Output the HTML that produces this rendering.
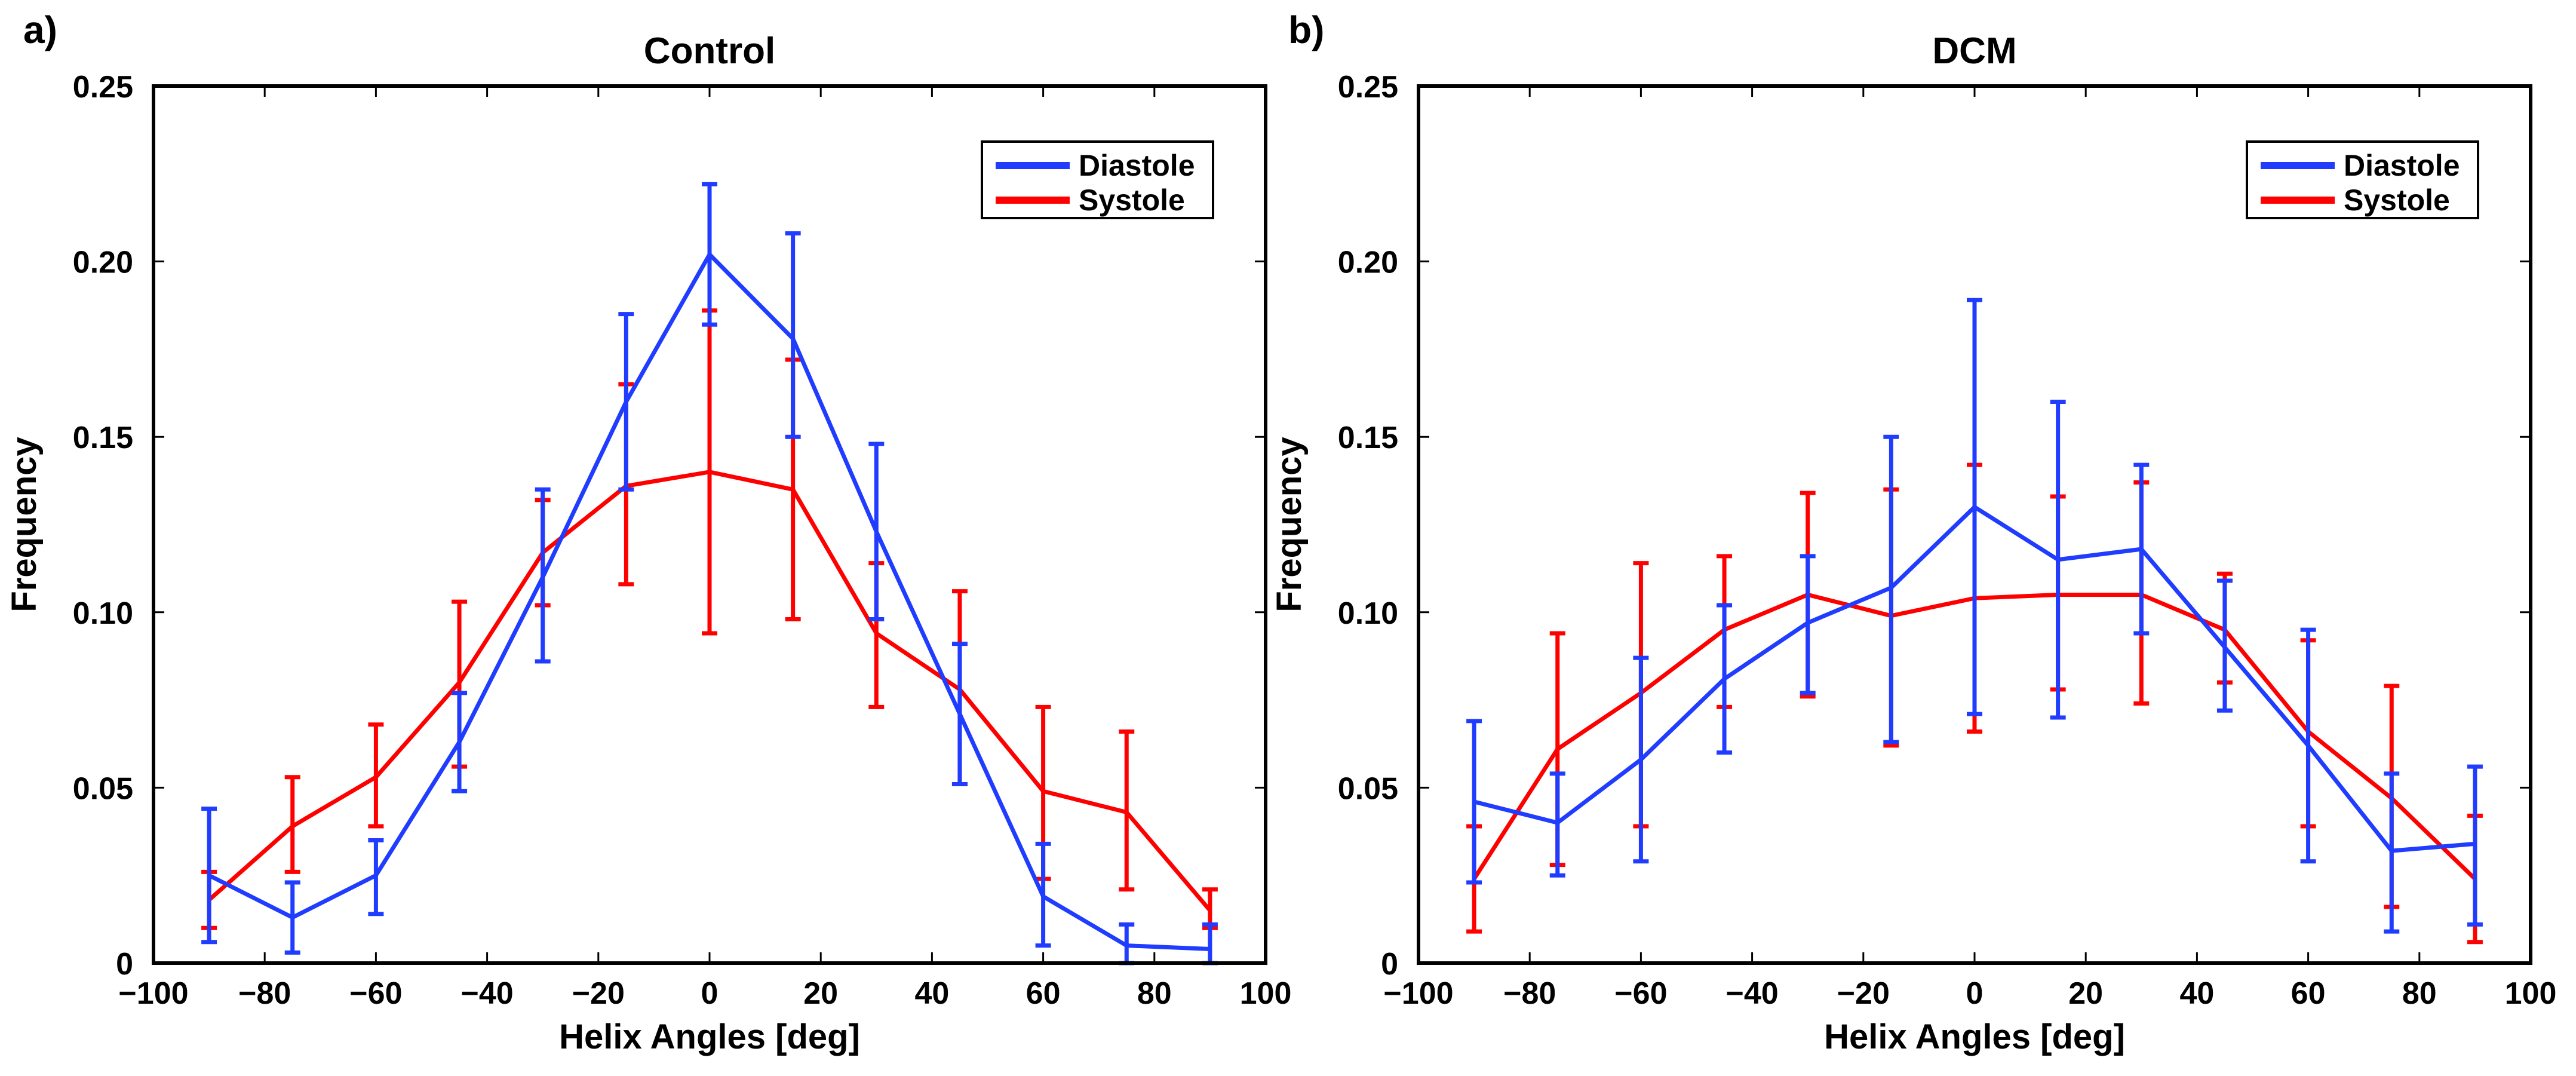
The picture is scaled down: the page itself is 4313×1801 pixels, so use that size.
<!DOCTYPE html>
<html><head><meta charset="utf-8"><style>
html,body{margin:0;padding:0;background:#fff;}
svg text{font-family:"Liberation Sans",sans-serif;font-weight:bold;fill:#000;}
</style></head><body>
<svg id="fig" width="4313" height="1796" viewBox="0 0 4313 1796" xmlns="http://www.w3.org/2000/svg"></svg>
<script>
const xVals=[-90,-75,-60,-45,-30,-15,0,15,30,45,60,75,90];
const xTicks=[-100,-80,-60,-40,-20,0,20,40,60,80,100];
const yTicks=[0,0.05,0.10,0.15,0.20,0.25];
const yTickLabels=["0","0.05","0.10","0.15","0.20","0.25"];
const ctrlDia=[0.025,0.013,0.025,0.063,0.110,0.160,0.202,0.178,0.123,0.071,0.019,0.005,0.004];
const ctrlDiaLo=[0.006,0.003,0.014,0.049,0.086,0.135,0.182,0.150,0.098,0.051,0.005,0.000,0.000];
const ctrlDiaHi=[0.044,0.023,0.035,0.077,0.135,0.185,0.222,0.208,0.148,0.091,0.034,0.011,0.011];
const ctrlSys=[0.018,0.039,0.053,0.080,0.117,0.136,0.140,0.135,0.094,0.078,0.049,0.043,0.015];
const ctrlSysLo=[0.010,0.026,0.039,0.056,0.102,0.108,0.094,0.098,0.073,0.051,0.024,0.021,0.010];
const ctrlSysHi=[0.026,0.053,0.068,0.103,0.132,0.165,0.186,0.172,0.114,0.106,0.073,0.066,0.021];
const dcmDia=[0.046,0.040,0.058,0.081,0.097,0.107,0.130,0.115,0.118,0.090,0.062,0.032,0.034];
const dcmDiaLo=[0.023,0.025,0.029,0.060,0.077,0.063,0.071,0.070,0.094,0.072,0.029,0.009,0.011];
const dcmDiaHi=[0.069,0.054,0.087,0.102,0.116,0.150,0.189,0.160,0.142,0.109,0.095,0.054,0.056];
const dcmSys=[0.024,0.061,0.077,0.095,0.105,0.099,0.104,0.105,0.105,0.095,0.066,0.047,0.024];
const dcmSysLo=[0.009,0.028,0.039,0.073,0.076,0.062,0.066,0.078,0.074,0.080,0.039,0.016,0.006];
const dcmSysHi=[0.039,0.094,0.114,0.116,0.134,0.135,0.142,0.133,0.137,0.111,0.092,0.079,0.042];

const NS="http://www.w3.org/2000/svg";
const svg=document.getElementById('fig');
const BLUE="#1f3cff", RED="#ff0000";
function mk(tag,attrs,parent){const e=document.createElementNS(NS,tag);for(const k in attrs)e.setAttribute(k,attrs[k]);(parent||svg).appendChild(e);return e;}

function panel(ox,letter,title,dia,diaLo,diaHi,sys,sysLo,sysHi,key){
  const L=ox,R=ox+1862,T=144,B=1612;
  const g=mk('g',{});
  
  
  const xs=v=>L+(v+100)/200*(R-L);
  const ys=v=>B-v/0.25*(B-T);
  xTicks.forEach(t=>{
    const x=xs(t);
    const tk=mk('line',{x1:x,x2:x,y1:B,y2:B-18,stroke:'#000','stroke-width':3},g);
    
    
    mk('line',{x1:x,x2:x,y1:T,y2:T+18,stroke:'#000','stroke-width':3},g);
    const tl=mk('text',{x:x,y:B+68,'font-size':52,'text-anchor':'middle'},g);
    tl.textContent=(t<0?'\u2212'+(-t):String(t));
    
    
  });
  yTicks.forEach((t,i)=>{
    const y=ys(t);
    mk('line',{x1:L,x2:L+18,y1:y,y2:y,stroke:'#000','stroke-width':3},g);
    mk('line',{x1:R,x2:R-18,y1:y,y2:y,stroke:'#000','stroke-width':3},g);
    const tl=mk('text',{x:L-34,y:y+19,'font-size':52,'text-anchor':'end'},g);
    tl.textContent=yTickLabels[i];
    
    
  });
  function series(vals,lo,hi,col,name){
    const pts=vals.map((v,i)=>xs(xVals[i])+','+ys(v)).join(' ');
    const pl=mk('polyline',{points:pts,fill:'none',stroke:col,'stroke-width':7,'stroke-linejoin':'round'},g);
    
    
    vals.forEach((v,i)=>{
      const x=xs(xVals[i]);
      const eg=mk('g',{stroke:col,'stroke-width':7},g);
      
      
      mk('line',{x1:x,x2:x,y1:ys(lo[i]),y2:ys(hi[i])},eg);
      mk('line',{x1:x-13,x2:x+13,y1:ys(lo[i]),y2:ys(lo[i])},eg);
      mk('line',{x1:x-13,x2:x+13,y1:ys(hi[i]),y2:ys(hi[i])},eg);
    });
  }
  series(sys,sysLo,sysHi,RED,'systole');
  series(dia,diaLo,diaHi,BLUE,'diastole');
  const box=mk('rect',{x:L,y:T,width:R-L,height:B-T,fill:'none',stroke:'#000','stroke-width':6},g);
  
  
  const lg=mk('g',{},g);
  
  
  const lx=L+1387;
  mk('rect',{x:lx,y:237,width:387,height:128,fill:'#fff',stroke:'#000','stroke-width':4},lg);
  mk('line',{x1:lx+23,x2:lx+147,y1:277,y2:277,stroke:BLUE,'stroke-width':12},lg);
  mk('line',{x1:lx+23,x2:lx+147,y1:335,y2:335,stroke:RED,'stroke-width':12},lg);
  const t1=mk('text',{x:lx+162,y:294,'font-size':50},lg);t1.textContent='Diastole';
  
  
  const t2=mk('text',{x:lx+162,y:352,'font-size':50},lg);t2.textContent='Systole';
  
  
  const tt=mk('text',{x:(L+R)/2,y:106,'font-size':62,'text-anchor':'middle'},g);tt.textContent=title;
  
  
  const xt=mk('text',{x:(L+R)/2,y:1755,'font-size':58,'text-anchor':'middle'},g);xt.textContent='Helix Angles [deg]';
  
  
  const yt=mk('text',{x:0,y:0,'font-size':58,'text-anchor':'middle',transform:'translate('+(L-197)+','+((T+B)/2)+') rotate(-90)'},g);yt.textContent='Frequency';
  
  
  const pl=mk('text',{x:L-218,y:72,'font-size':64},g);pl.textContent=letter;
  
  
}
panel(257,'a)','Control',ctrlDia,ctrlDiaLo,ctrlDiaHi,ctrlSys,ctrlSysLo,ctrlSysHi,'control');
panel(2375,'b)','DCM',dcmDia,dcmDiaLo,dcmDiaHi,dcmSys,dcmSysLo,dcmSysHi,'dcm');
</script>
</body></html>
